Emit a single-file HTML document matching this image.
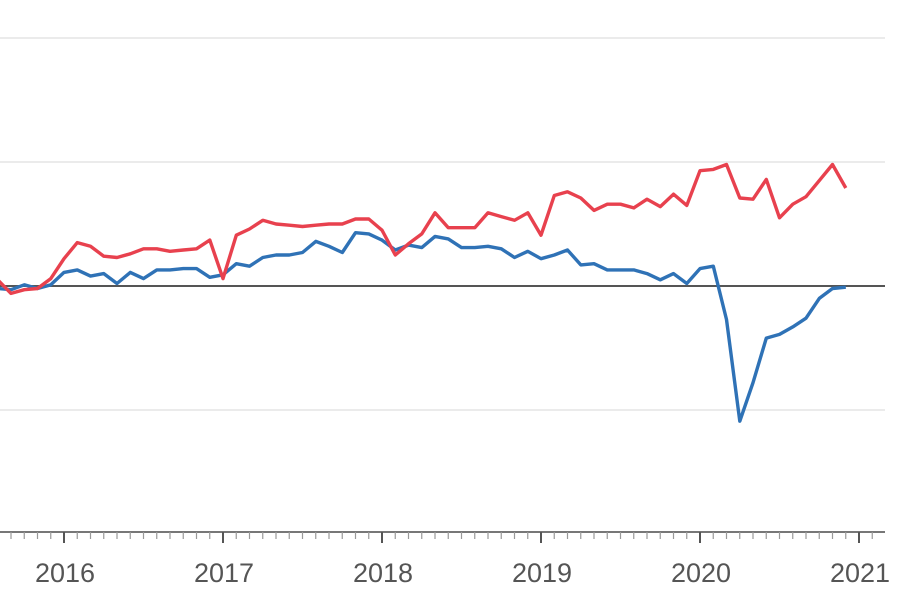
<!DOCTYPE html>
<html><head><meta charset="utf-8"><style>
html,body{margin:0;padding:0;background:#fff;width:910px;height:596px;overflow:hidden}
svg{display:block;font-family:"Liberation Sans",sans-serif}
</style></head><body>
<svg id="chart" width="910" height="596" viewBox="0 0 910 596"></svg>
<script>
const startYear = 2015, startMonth = 7; // Aug 2015 (0-based month)
const redSeries = [0.5,-0.6,-0.3,-0.2,0.6,2.2,3.5,3.2,2.4,2.3,2.6,3.0,3.0,2.8,2.9,3.0,3.7,0.6,4.1,4.6,5.3,5.0,4.9,4.8,4.9,5.0,5.0,5.4,5.4,4.5,2.5,3.4,4.2,5.9,4.7,4.7,4.7,5.9,5.6,5.3,5.9,4.1,7.3,7.6,7.1,6.1,6.6,6.6,6.3,7.0,6.4,7.4,6.5,9.3,9.4,9.8,7.1,7.0,8.6,5.5,6.6,7.2,8.5,9.8,7.9];
const blueSeries = [-0.2,-0.3,0.1,-0.2,0.1,1.1,1.3,0.8,1.0,0.2,1.1,0.6,1.3,1.3,1.4,1.4,0.7,0.9,1.8,1.6,2.3,2.5,2.5,2.7,3.6,3.2,2.7,4.3,4.2,3.7,2.9,3.3,3.1,4.0,3.8,3.1,3.1,3.2,3.0,2.3,2.8,2.2,2.5,2.9,1.7,1.8,1.3,1.3,1.3,1.0,0.5,1.0,0.2,1.4,1.6,-2.7,-10.9,-7.8,-4.2,-3.9,-3.3,-2.6,-1.0,-0.2,-0.1];
const yTicks = [20,10,-10];
const xLabels = ["2016","2017","2018","2019","2020","2021"];

const NS = "http://www.w3.org/2000/svg";
const svg = document.getElementById("chart");
const x2016 = 64, pxPerMonth = 13.25;
function xScale(monthIndexFrom2016){ return x2016 + monthIndexFrom2016*pxPerMonth; }
function yScale(v){ return 286 - v*12.4; }
function mk(tag, attrs){ const e=document.createElementNS(NS,tag); for(const k in attrs) e.setAttribute(k,attrs[k]); svg.appendChild(e); return e; }

yTicks.forEach(t=>{
  const g = mk("line",{x1:0,x2:885,y1:yScale(t),y2:yScale(t),stroke:"#ebebeb","stroke-width":2});
  
  
});
const base = mk("line",{x1:0,x2:885,y1:yScale(0),y2:yScale(0),stroke:"#555","stroke-width":2});



const axis = mk("line",{x1:0,x2:885,y1:532,y2:532,stroke:"#777","stroke-width":2});


for(let m=-5;m<=63;m++){
  const x=xScale(m); if(x<0||x>885) continue;
  const major = m%12===0;
  const t = mk("line",{x1:x,x2:x,y1:532,y2:major?543:539,stroke:major?"#555":"#999","stroke-width":major?2:1.2});
  
  
}
xLabels.forEach((l,i)=>{
  const t = mk("text",{x:xScale(i*12)+1,y:582,"text-anchor":"middle","font-size":27,fill:"#555"});
  t.textContent=l;
  
  
});

function drawSeries(arr,color,name){
  const offset = (startYear-2016)*12 + startMonth;
  const d = arr.map((v,i)=>(i?"L":"M")+xScale(offset+i).toFixed(1)+","+yScale(v).toFixed(1)).join(" ");
  const p = mk("path",{d:d,fill:"none",stroke:color,"stroke-width":3.4,"stroke-linejoin":"round"});
  
  
}
drawSeries(blueSeries,"#2f72b6","blue-series-line");
drawSeries(redSeries,"#e8414e","red-series-line");
</script>
</body></html>
